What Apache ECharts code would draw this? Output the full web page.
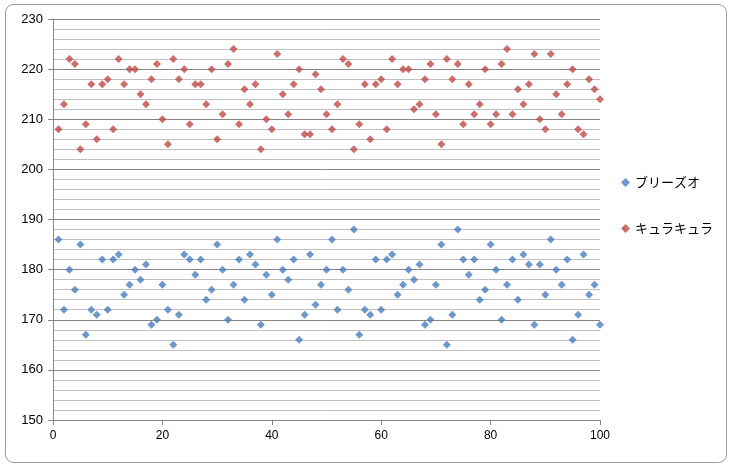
<!DOCTYPE html>
<html><head><meta charset="utf-8">
<script src="https://cdn.jsdelivr.net/npm/echarts@6/dist/echarts.min.js"></script>
<style>html,body{margin:0;padding:0;background:#fff}#c{width:731px;height:467px}</style>
</head><body><div id="c"></div>
<script>
const seriesNames = ['ブリーズオ', 'キュラキュラ'];
const xValues = Array.from({length: 100}, (_, i) => i + 1);
const blueValues = [186,172,180,176,185,167,172,171,182,172,182,183,175,177,180,178,181,169,170,177,
  172,165,171,183,182,179,182,174,176,185,180,170,177,182,174,183,181,169,179,175,
  186,180,178,182,166,171,183,173,177,180,186,172,180,176,188,167,172,171,182,172,
  182,183,175,177,180,178,181,169,170,177,185,165,171,188,182,179,182,174,176,185,
  180,170,177,182,174,183,181,169,181,175,186,180,177,182,166,171,183,175,177,169];
const redValues = [208,213,222,221,204,209,217,206,217,218,208,222,217,220,220,215,213,218,221,210,
  205,222,218,220,209,217,217,213,220,206,211,221,224,209,216,213,217,204,210,208,
  223,215,211,217,220,207,207,219,216,211,208,213,222,221,204,209,217,206,217,218,
  208,222,217,220,220,212,213,218,221,211,205,222,218,221,209,217,211,213,220,209,
  211,221,224,211,216,213,217,223,210,208,223,215,211,217,220,208,207,218,216,214];
const yMin = 150, yMax = 230, yStep = 10, xMin = 0, xMax = 100, xStep = 20;

const toPairs = (vals) => xValues.map((x, i) => [x, vals[i]]);
const chart = echarts.init(document.getElementById('c'), null, {renderer: 'canvas'});
const numFont = '"Liberation Sans", Arial, sans-serif';
const jpFont = '"Noto Sans CJK JP", "Liberation Sans", sans-serif';
chart.setOption({
  animation: false,
  backgroundColor: '#ffffff',
  graphic: [{
    type: 'rect', left: 5, top: 4, z: -10, silent: true,
    shape: {width: 721, height: 458, r: 8},
    style: {fill: '#ffffff', stroke: '#9a9a9a', lineWidth: 1}
  }],
  grid: {left: 53, right: 131, top: 19, bottom: 47},
  legend: {
    orient: 'vertical', left: 616, top: 171, itemGap: 33,
    itemWidth: 9, itemHeight: 9, icon: 'diamond',
    textStyle: {fontFamily: jpFont, fontSize: 13, color: '#000'},
    data: seriesNames
  },
  xAxis: {
    type: 'value', min: xMin, max: xMax, interval: xStep,
    axisLine: {show: true, lineStyle: {color: '#868686'}},
    axisTick: {show: true, length: 5, lineStyle: {color: '#868686'}},
    axisLabel: {fontFamily: numFont, fontSize: 12, color: '#000', margin: 10},
    splitLine: {show: false}
  },
  yAxis: {
    type: 'value', min: yMin, max: yMax, interval: yStep,
    axisLine: {show: true, lineStyle: {color: '#868686'}},
    axisTick: {show: true, length: 5, lineStyle: {color: '#868686'}},
    axisLabel: {fontFamily: numFont, fontSize: 13, color: '#000', margin: 10},
    splitLine: {show: true, lineStyle: {color: '#868686', width: 1}},
    minorTick: {show: false, splitNumber: 5},
    minorSplitLine: {show: true, lineStyle: {color: '#c0c0c0', width: 1}}
  },
  series: [
    {name: seriesNames[0], type: 'scatter', symbol: 'diamond', symbolSize: 8,
     itemStyle: {color: '#4A7EBB'}, data: toPairs(blueValues)},
    {name: seriesNames[1], type: 'scatter', symbol: 'diamond', symbolSize: 8,
     itemStyle: {color: '#BE4B48'}, data: toPairs(redValues)}
  ]
});
</script></body></html>
